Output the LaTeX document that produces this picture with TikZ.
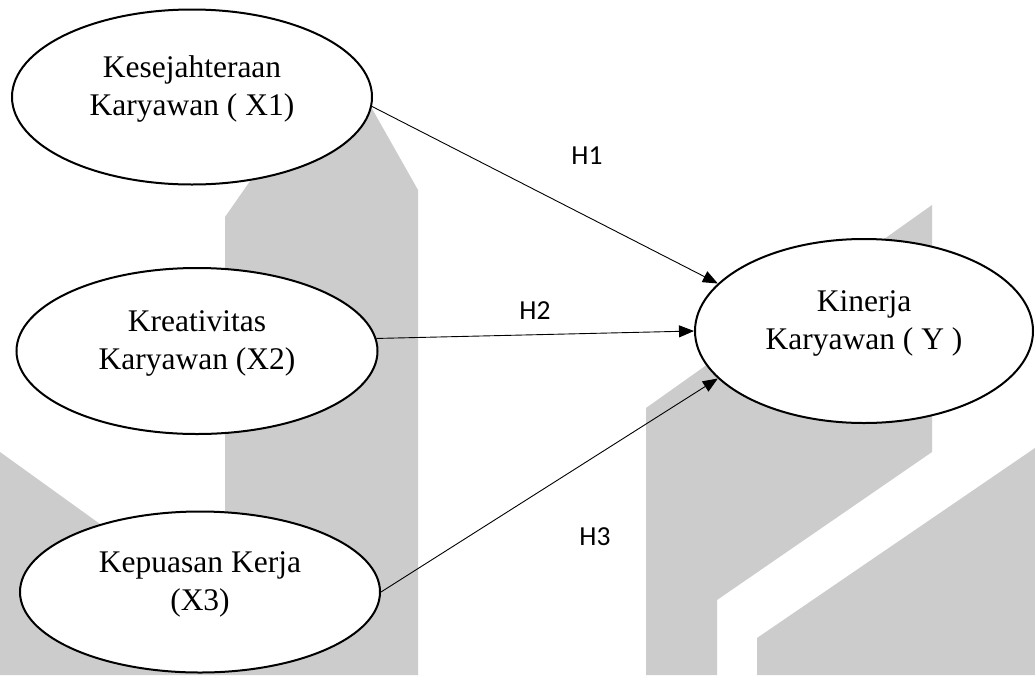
\documentclass[tikz,border=0pt]{standalone}
\usepackage{fontspec}
\setmainfont{Liberation Serif}
\newfontfamily\hypfont{Carlito}
\usepackage{tikz}
\usetikzlibrary{arrows.meta,shapes.geometric}
\definecolor{wmgray}{RGB}{204,204,204}
\newcommand\dropline{\rule[-22pt]{0pt}{22pt}}

\begin{document}
\begin{tikzpicture}[x=1pt, y=-1pt,
  var/.style={draw, ellipse, line width=2pt, fill=white, align=center,
    font=\fontsize{31.5}{38}\selectfont, inner sep=0pt},
  hyp/.style={font=\hypfont\fontsize{27.5}{32}\selectfont},
  arr/.style={-{Triangle[length=15pt,width=12pt]}, line width=0.9pt}]
  % Background and watermark
  \fill[white] (0,0) rectangle (1035,675);
  \fill[wmgray] (225,675) -- (225,217) -- (340,52) -- (418,190) -- (418,675) -- cycle;
  \fill[wmgray] (0,452) -- (225,614) -- (225,675) -- (0,675) -- cycle;
  \fill[wmgray] (646,675) -- (646,408) -- (932,205) -- (932,452) -- (717,600) -- (717,675) -- cycle;
  \fill[wmgray] (757,675) -- (757,638) -- (1035,448) -- (1035,675) -- cycle;

  % Nodes
  \node[var, minimum width=360pt, minimum height=175pt] (x1) at (192,97) {Kesejahteraan\\Karyawan ( X1)\dropline};
  \node[var, minimum width=361pt, minimum height=166pt] (x2) at (197,351) {Kreativitas\\Karyawan (X2)\dropline};
  \node[var, minimum width=360pt, minimum height=161pt] (x3) at (200,592) {Kepuasan Kerja\\(X3)\dropline};
  \node[var, minimum width=338pt, minimum height=184pt] (y) at (864,331) {Kinerja\\Karyawan ( Y )\dropline};

  % Arrows
  \draw[arr] (x1.-3) -- (y.162);
  \draw[arr] (x2.4) -- (y.west);
  \draw[arr] (x3.east) -- (y.198);

  % Labels
  \node[hyp] (h1) at (587,156) {H1};
  \node[hyp] (h2) at (535,311) {H2};
  \node[hyp] (h3) at (595,537) {H3};
\end{tikzpicture}
\end{document}
